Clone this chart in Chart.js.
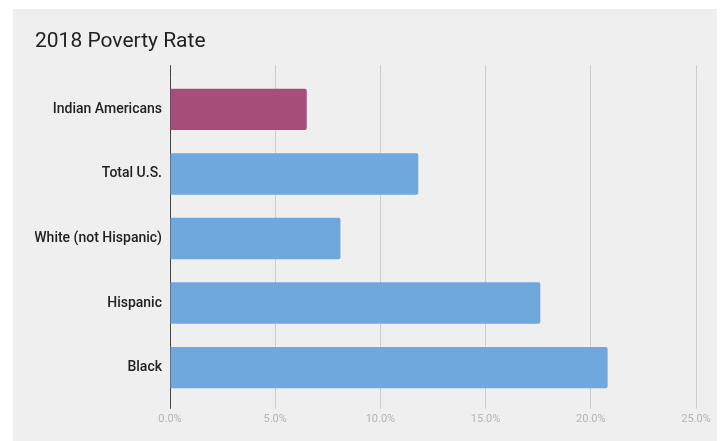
<!DOCTYPE html>
<html>
<head>
<meta charset="utf-8">
<script src="https://cdn.jsdelivr.net/npm/chart.js@4/dist/chart.umd.min.js"></script>
<style>
  html, body { margin: 0; padding: 0; background: #ffffff; }
  #wrap { position: absolute; left: 13px; top: 9px; width: 704px; height: 432px; background: #efefef; }
</style>
</head>
<body>
<div id="wrap"><canvas id="povertyChart" width="704" height="432"></canvas></div>
<script>
const groups = ["Indian Americans", "Total U.S.", "White (not Hispanic)", "Hispanic", "Black"];
const povertyRate = [6.5, 11.8, 8.1, 17.6, 20.8];
const rateTicks = [0, 5, 10, 15, 20, 25];

const BLUE = "#6fa8dc";
const MAGENTA = "#a64d79";
const barColors = groups.map((g) => (g === "Indian Americans" ? MAGENTA : BLUE));

// vertical grid lines, with the zero line drawn darker
const gridColor = (ctx) => (ctx.tick && ctx.tick.value === 0 ? "#444444" : "#cccccc");

const ctx = document.getElementById("povertyChart").getContext("2d");
new Chart(ctx, {
  type: "bar",
  data: {
    labels: groups,
    datasets: [{
      data: povertyRate,
      backgroundColor: barColors,
      borderRadius: 2,
      borderSkipped: "start",
      barPercentage: 0.64,
      categoryPercentage: 1,
    }],
  },
  options: {
    indexAxis: "y",
    responsive: false,
    animation: false,
    layout: { padding: { left: 22, right: 21, top: 0, bottom: 11 } },
    scales: {
      x: {
        type: "linear",
        position: "bottom",
        min: 0,
        max: 25,
        afterBuildTicks: (scale) => { scale.ticks = rateTicks.map((v) => ({ value: v })); },
        border: { display: false },
        grid: { color: gridColor, lineWidth: 1, tickLength: 9 },
        ticks: {
          color: "#b4b4b4",
          font: { family: "Roboto", size: 11 },
          padding: 4,
          callback: (v) => v.toFixed(1) + "%",
        },
      },
      xTop: {
        type: "linear",
        position: "top",
        axis: "x",
        min: 0,
        max: 25,
        afterBuildTicks: (scale) => { scale.ticks = rateTicks.map((v) => ({ value: v })); },
        border: { display: false },
        grid: { color: gridColor, lineWidth: 1, tickLength: 12, drawOnChartArea: false },
        ticks: { display: false },
      },
      y: {
        border: { display: false },
        grid: { display: false, drawTicks: false, tickLength: 0 },
        afterFit: (scale) => { scale.width = 135; },
        ticks: {
          color: "#222222",
          padding: 8,
          font: { family: "Roboto", size: 14, weight: "500" },
        },
      },
    },
    plugins: {
      legend: { display: false },
      tooltip: { enabled: false },
      title: {
        display: true,
        text: "2018 Poverty Rate",
        align: "start",
        color: "#222222",
        font: { family: "Roboto", size: 21, weight: "normal" },
        padding: { top: 20, bottom: 11 },
      },
    },
  },
});
</script>
</body>
</html>
